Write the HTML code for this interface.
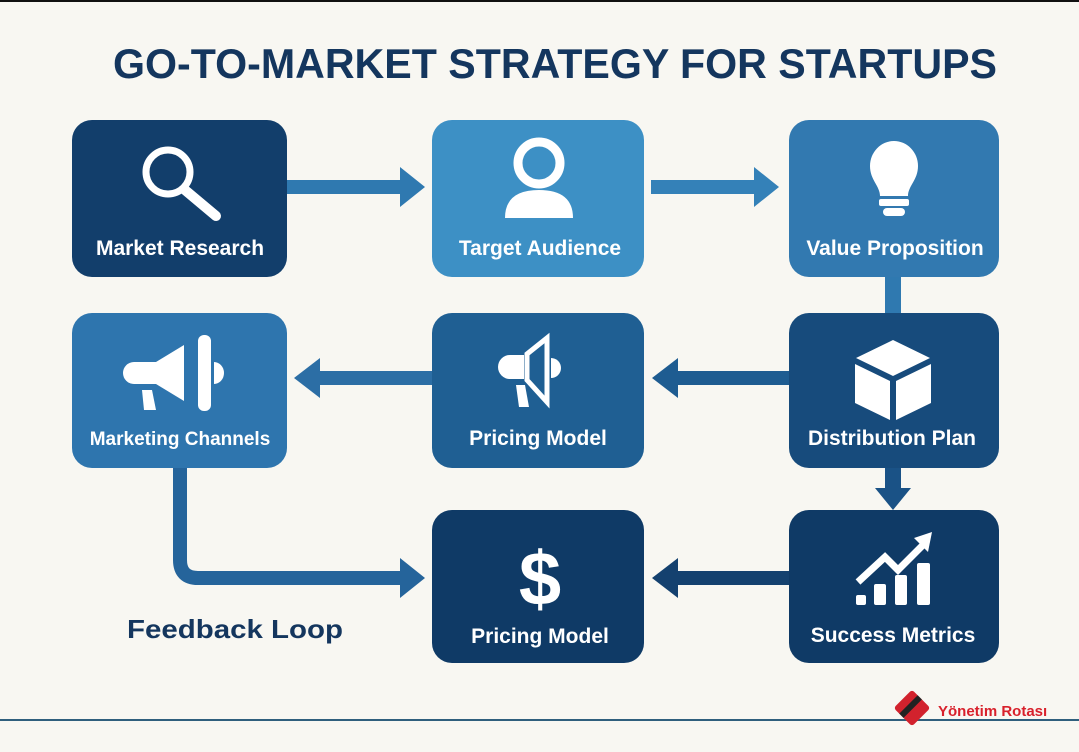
<!DOCTYPE html>
<html><head><style>
html,body{margin:0;padding:0;background:#f8f7f2;}
svg{display:block}
text{font-family:"Liberation Sans",sans-serif;font-weight:bold;}
</style></head><body>
<svg width="1079" height="752" viewBox="0 0 1079 752" xmlns="http://www.w3.org/2000/svg">
<rect width="1079" height="752" fill="#f8f7f2"/>
<rect x="0" y="0" width="1079" height="2" fill="#111"/>
<text x="113" y="78" font-size="42" fill="#14365e" textLength="884" lengthAdjust="spacingAndGlyphs">GO-TO-MARKET STRATEGY FOR STARTUPS</text>

<g>
<rect x="287" y="180" width="115" height="14" fill="#2f79b0"/>
<polygon points="400,167 425,187 400,207" fill="#2f79b0"/>
<rect x="651" y="180" width="105" height="14" fill="#3481b8"/>
<polygon points="754,167 779,187 754,207" fill="#3481b8"/>
<rect x="885" y="277" width="16" height="36" fill="#2f79b0"/>
<rect x="318" y="371" width="114" height="14" fill="#2c6ea5"/>
<polygon points="320,358 294,378 320,398" fill="#2c6ea5"/>
<rect x="676" y="371" width="113" height="14" fill="#1e5c91"/>
<polygon points="678,358 652,378 678,398" fill="#1e5c91"/>
<rect x="885" y="468" width="16" height="22" fill="#1a5286"/>
<polygon points="875,488 911,488 893,510" fill="#1a5286"/>
<rect x="676" y="571" width="113" height="14" fill="#14416f"/>
<polygon points="678,558 652,578 678,598" fill="#14416f"/>
<path d="M180 468 V560 Q180 578 198 578 H402" fill="none" stroke="#25649b" stroke-width="14"/>
<polygon points="400,558 425,578 400,598" fill="#25649b"/>
</g>

<rect x="72" y="120" width="215" height="157" rx="20" fill="#123e6b"/>
<rect x="432" y="120" width="212" height="157" rx="20" fill="#3d90c5"/>
<rect x="789" y="120" width="210" height="157" rx="20" fill="#3279b0"/>
<rect x="72" y="313" width="215" height="155" rx="20" fill="#2e75ae"/>
<rect x="432" y="313" width="212" height="155" rx="20" fill="#1f5f93"/>
<rect x="789" y="313" width="210" height="155" rx="20" fill="#174b7c"/>
<rect x="432" y="510" width="212" height="153" rx="20" fill="#0f3a66"/>
<rect x="789" y="510" width="210" height="153" rx="20" fill="#0f3a66"/>

<g fill="#fff" stroke="#fff">
<circle cx="168" cy="172" r="22" fill="none" stroke-width="7"/>
<line x1="185" y1="190" x2="216" y2="216" stroke-width="10" stroke-linecap="round"/>
<circle cx="539" cy="163" r="21" fill="none" stroke-width="9"/>
<path d="M505 218 Q505 190 539 190 Q573 190 573 218 Z" stroke="none"/>
<path d="M870 166 a24 25 0 1 1 48 0 c0 14 -10 20 -10 30 h-28 c0 -10 -10 -16 -10 -30z" stroke="none"/>
<rect x="879" y="199" width="30" height="7" rx="2" stroke="none"/>
<rect x="883" y="208" width="22" height="8" rx="4" stroke="none"/>
<path d="M134 362 h22 v22 h-22 a11 11 0 0 1 0 -22z" stroke="none"/>
<polygon points="156,362 184,345 184,401 156,384" stroke="none"/>
<rect x="198" y="335" width="13" height="76" rx="6" stroke="none"/>
<path d="M214 362 a10 11 0 0 1 0 22z" stroke="none"/>
<path d="M142 390 l10 0 l4 20 l-12 0z" stroke="none"/>
<path d="M510 355 h14 v24 h-14 a12 12 0 0 1 0 -24z" stroke="none"/>
<polygon points="527,354 547,338 547,402 527,380" fill="none" stroke-width="5"/>
<path d="M551 358 a10 10 0 0 1 0 20z" stroke="none"/>
<path d="M516 385 l9 0 l4 22 l-10 0z" stroke="none"/>
<polygon points="856,358 893,340 930,358 893,376" stroke="none"/>
<polygon points="855,364 890,381 890,420 855,403" stroke="none"/>
<polygon points="896,381 931,364 931,403 896,420" stroke="none"/>
<text x="540" y="605" font-size="76" text-anchor="middle" stroke="none">$</text>
<rect x="856" y="595" width="10" height="10" rx="2" stroke="none"/>
<rect x="874" y="584" width="12" height="21" rx="2" stroke="none"/>
<rect x="895" y="575" width="12" height="30" rx="2" stroke="none"/>
<rect x="917" y="563" width="13" height="42" rx="2" stroke="none"/>
<polyline points="858,582 885,557 898,570 925,543" fill="none" stroke-width="7"/>
<polygon points="914,538 932,532 928,552" stroke="none"/>
</g>

<g fill="#fff" font-size="21" text-anchor="middle">
<text x="180" y="255">Market Research</text>
<text x="540" y="255">Target Audience</text>
<text x="895" y="255">Value Proposition</text>
<text x="180" y="445" font-size="19">Marketing Channels</text>
<text x="538" y="445">Pricing Model</text>
<text x="892" y="445">Distribution Plan</text>
<text x="540" y="643">Pricing Model</text>
<text x="893" y="642">Success Metrics</text>
</g>
<text x="127" y="638" font-size="26" fill="#14365e" textLength="216" lengthAdjust="spacingAndGlyphs">Feedback Loop</text>

<rect x="0" y="719" width="1079" height="2" fill="#2f5f7d"/>
<g transform="translate(912,708) rotate(45)">
<rect x="-13" y="-13" width="26" height="26" rx="3" fill="#d2222d"/>
<rect x="-5" y="-13" width="6" height="26" fill="#222"/>
</g>
<text x="938" y="716" font-size="15" fill="#d8202b">Yönetim Rotası</text>
</svg>
</body></html>
